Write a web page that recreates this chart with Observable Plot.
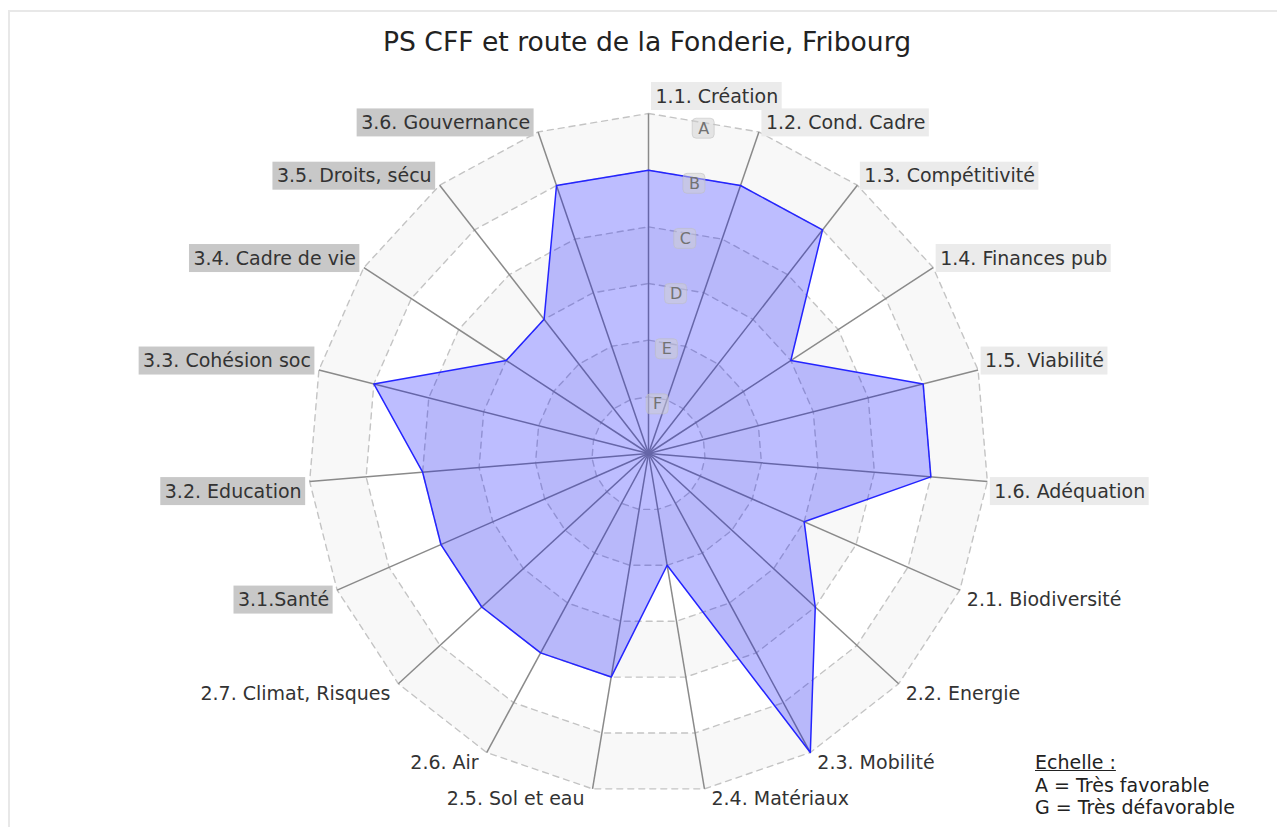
<!DOCTYPE html>
<html>
<head>
<meta charset="utf-8">
<script src="https://cdn.jsdelivr.net/npm/d3@7"></script>
<script src="https://cdn.jsdelivr.net/npm/@observablehq/plot@0.6"></script>
<style>
  html, body { margin: 0; padding: 0; background: #ffffff; overflow: hidden; width: 1277px; height: 827px; }
  #frame { position: absolute; left: 8px; top: 10px; right: 0; bottom: 0; border-top: 2px solid #e8e8e8; border-left: 2px solid #e8e8e8; }
  #title { position: absolute; left: 0; top: 26px; width: 1294px; text-align: center; font-family: "DejaVu Sans", sans-serif; font-size: 26.6px; line-height: 32px; color: #222; }
  #chart { position: absolute; left: 0; top: 70px; }
  #legend { position: absolute; left: 1035px; top: 751px; font-family: "DejaVu Sans", sans-serif; font-size: 19px; line-height: 22.5px; color: #222; }
  #legend .head { text-decoration: underline; }
</style>
</head>
<body>
<div id="frame"></div>
<div id="title">PS CFF et route de la Fonderie, Fribourg</div>
<div id="chart"></div>
<div id="legend">
  <div class="head">Echelle :</div>
  <div>A = Très favorable</div>
  <div>G = Très défavorable</div>
</div>
<script>
// ---- data ----
const categories = [
  "1.1. Création", "1.2. Cond. Cadre", "1.3. Compétitivité", "1.4. Finances pub",
  "1.5. Viabilité", "1.6. Adéquation", "2.1. Biodiversité", "2.2. Energie",
  "2.3. Mobilité", "2.4. Matériaux", "2.5. Sol et eau", "2.6. Air",
  "2.7. Climat, Risques", "3.1.Santé", "3.2. Education", "3.3. Cohésion soc",
  "3.4. Cadre de vie", "3.5. Droits, sécu", "3.6. Gouvernance"
];
const scores = ["B", "B", "B", "D", "B", "B", "D", "C", "A", "E", "C", "C", "C", "C", "C", "B", "D", "D", "B"];
const gradeScale = ["G", "F", "E", "D", "C", "B", "A"]; // index = radial value
const ringLabels = ["A", "B", "C", "D", "E", "F"];

// ---- geometry helpers ----
const W = 1277, H = 757, cx = 648, cy = 383;
const u = 340 / 6; // pixels per grade step
const n = categories.length;
const maxV = gradeScale.length - 1;
const ang = i => i * 2 * Math.PI / n;
const FONT = "DejaVu Sans";
const FS = 19;

const ctx = document.createElement("canvas").getContext("2d");
ctx.font = `${FS}px "${FONT}"`;

const rows = categories.map((c, i) => {
  const a = ang(i), s = Math.sin(a), co = Math.cos(a);
  const right = i === 0 || s > 0;
  const dxp = i === 0 ? 7 : (s > 0 ? 7 : -8);
  const dyp = i === 0 ? -17 : (co > 0 ? -9 : 10); // pixels, downward positive
  const lx = maxV * s + dxp / u;
  const ly = maxV * co - dyp / u;
  const w = ctx.measureText(c).width;
  return {
    c, i, a, s, co, right, lx, ly, w,
    group: c[0],
    v: gradeScale.indexOf(scores[i])
  };
});

const ringPts = [];
for (let k = 1; k <= maxV; k++) {
  for (let i = 0; i < n; i++) ringPts.push({ ring: k, x: k * Math.sin(ang(i)), y: k * Math.cos(ang(i)) });
}

const half = Math.PI / n;
const letterRows = ringLabels.map((L, j) => {
  const v = gradeScale.indexOf(L);
  const r = v * Math.cos(half);
  return { L, x: r * Math.sin(half), y: r * Math.cos(half) - 6 / u };
});

const bandMarks = [];
for (let k = maxV; k >= 1; k--) {
  bandMarks.push(Plot.line(ringPts.filter(d => d.ring === k), {
    x: "x", y: "y", curve: "linear-closed",
    fill: k % 2 === 0 ? "#f8f8f8" : "#ffffff", stroke: "none"
  }));
}

const boxed = rows.filter(d => d.group !== "2");
const boxFill = { "1": "#ebebeb", "3": "#c8c8c8" };

const chart = Plot.plot({
  width: W, height: H,
  margin: 0,
  x: { domain: [-cx / u, (W - cx) / u], range: [0, W], axis: null },
  y: { domain: [-(H - cy) / u, cy / u], range: [H, 0], axis: null },
  style: { fontFamily: FONT, background: "transparent" },
  marks: [
    ...bandMarks,
    Plot.line(ringPts, {
      x: "x", y: "y", z: "ring", curve: "linear-closed",
      stroke: "#c4c4c4", strokeWidth: 1.4, strokeDasharray: "6,5"
    }),
    Plot.link(rows, {
      x1: d => 0, y1: d => 0,
      x2: d => maxV * d.s, y2: d => maxV * d.co,
      stroke: "#8a8a8a", strokeWidth: 1.5
    }),
    Plot.line(rows, {
      x: d => d.v * d.s, y: d => d.v * d.co, curve: "linear-closed",
      fill: "#0000ff", fillOpacity: 0.26, stroke: "#2424ff", strokeWidth: 1.5
    }),
    Plot.rect(letterRows, {
      x1: d => d.x - 11 / u, x2: d => d.x + 11 / u,
      y1: d => d.y - 10 / u, y2: d => d.y + 10 / u,
      fill: "#cfcfcf", fillOpacity: 0.5, stroke: "#bdbdbd", strokeOpacity: 0.5, rx: 4
    }),
    Plot.text(letterRows, {
      x: "x", y: "y", text: "L", fontSize: 16, fill: "#727272", lineAnchor: "middle"
    }),
    Plot.rect(boxed, {
      x1: d => d.right ? d.lx - 4 / u : d.lx - (d.w + 4) / u,
      x2: d => d.right ? d.lx + (d.w + 4) / u : d.lx + 4 / u,
      y1: d => d.ly - 14 / u, y2: d => d.ly + 14 / u,
      fill: d => boxFill[d.group]
    }),
    Plot.text(rows.filter(d => d.right), {
      x: "lx", y: "ly", text: "c", textAnchor: "start", lineAnchor: "middle",
      fontSize: FS, fill: "#333"
    }),
    Plot.text(rows.filter(d => !d.right), {
      x: "lx", y: "ly", text: "c", textAnchor: "end", lineAnchor: "middle",
      fontSize: FS, fill: "#333"
    })
  ]
});
document.getElementById("chart").appendChild(chart);
</script>
</body>
</html>
